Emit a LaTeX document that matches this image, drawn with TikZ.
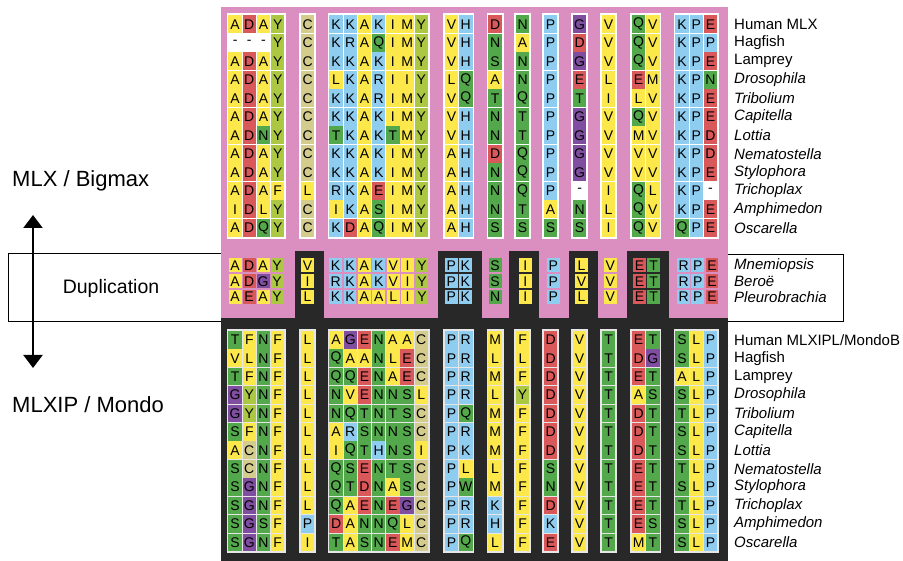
\documentclass[tikz,border=0pt]{standalone}
\usepackage{fontspec}
\setmainfont{Liberation Sans}
\usetikzlibrary{arrows.meta}
\definecolor{cyel}{RGB}{252,232,74}
\definecolor{cred}{RGB}{217,88,90}
\definecolor{cblu}{RGB}{142,204,240}
\definecolor{cgrn}{RGB}{82,168,74}
\definecolor{clgr}{RGB}{172,200,66}
\definecolor{cpur}{RGB}{128,78,160}
\definecolor{ckha}{RGB}{212,204,140}
\definecolor{cpink}{RGB}{219,143,192}
\definecolor{cdark}{RGB}{40,40,40}
\definecolor{cframe}{RGB}{230,230,230}
\tikzset{
  aa/A/.style={fill=cyel}, aa/I/.style={fill=cyel}, aa/L/.style={fill=cyel},
  aa/M/.style={fill=cyel}, aa/V/.style={fill=cyel}, aa/F/.style={fill=cyel},
  aa/D/.style={fill=cred}, aa/E/.style={fill=cred},
  aa/K/.style={fill=cblu}, aa/R/.style={fill=cblu}, aa/H/.style={fill=cblu}, aa/P/.style={fill=cblu},
  aa/Q/.style={fill=cgrn}, aa/N/.style={fill=cgrn}, aa/S/.style={fill=cgrn},
  aa/T/.style={fill=cgrn}, aa/W/.style={fill=cgrn},
  aa/G/.style={fill=cpur}, aa/Y/.style={fill=clgr}, aa/C/.style={fill=ckha},
  aa/-/.style={fill=white},
  cell/.style={rectangle, inner sep=0pt, minimum width=13.4pt, minimum height=17.6pt,
    font=\fontsize{14}{14}\selectfont},
  mcell/.style={cell, minimum width=12.8pt, minimum height=14pt},
  lab/.style={anchor=west, inner sep=0pt, font=\fontsize{15}{15}\selectfont},
  splab/.style={anchor=west, inner sep=0pt, font=\fontsize{15}{15}\selectfont\itshape},
  bigtext/.style={inner sep=0pt, font=\fontsize{22}{22}\selectfont},
  dupline/.style={line width=0.9pt, black},
}
\def\colx{228,242.2,256.4,270.6,300.5,329,343.2,357.4,371.6,385.8,400,414.2,444.5,458.7,488,515.5,543.5,572.5,601.5,631.5,645.7,675,689.2,703.4}
\def\mcolx{228.5,242.5,256.5,270.5,301,329,343.4,357.8,372.2,386.6,401,415.4,444.7,458.7,488.5,518.7,546.7,575,603.7,633,647,677,691.2,705.4}
\begin{document}
\begin{tikzpicture}[x=1pt,y=-1pt]
\useasboundingbox (0,0) rectangle (903,561);
% backgrounds
\fill[cpink] (221,7) rectangle (728,318);
\fill[cdark] (221,318) rectangle (728,561);
% middle black boxes
\foreach \xa/\xb in {294.5/323.5, 438/482, 509/539, 569/598, 627/669}
  \fill[cdark] (\xa,251) rectangle (\xb,318);
% frames
\foreach \xs/\n in {228/4,300.5/1,329/7,444.5/2,488/1,515.5/1,543.5/1,572.5/1,601.5/1,631.5/2,675/3}{
  \fill[white] (\xs-1.5,13.2) rectangle (\xs+\n*14.2+1.5,238.8);
  \fill[cframe] (\xs-1.5,329) rectangle (\xs+\n*14.2+1.5,553.2);
}
% top block
\foreach \row [count=\r] in {
{A,D,A,Y,C,K,K,A,K,I,M,Y,V,H,D,N,P,G,V,Q,V,K,P,E},
{-,-,-,Y,C,K,R,A,Q,I,M,Y,V,H,N,A,P,D,V,Q,V,K,P,P},
{A,D,A,Y,C,K,K,A,K,I,M,Y,V,H,S,N,P,G,V,Q,V,K,P,E},
{A,D,A,Y,C,L,K,A,R,I,I,Y,L,Q,A,N,P,E,L,E,M,K,P,N},
{A,D,A,Y,C,K,K,A,R,I,M,Y,V,Q,T,Q,P,T,I,L,V,K,P,E},
{A,D,A,Y,C,K,K,A,K,I,M,Y,V,H,N,T,P,G,V,Q,V,K,P,E},
{A,D,N,Y,C,T,K,A,K,T,M,Y,V,H,N,T,P,G,V,M,V,K,P,D},
{A,D,A,Y,C,K,K,A,K,I,M,Y,A,H,D,Q,P,G,V,V,V,K,P,D},
{A,D,A,Y,C,K,K,A,K,I,M,Y,A,H,N,Q,P,G,V,V,V,K,P,E},
{A,D,A,F,L,R,K,A,E,I,M,Y,A,H,N,Q,P,-,I,Q,L,K,P,-},
{I,D,L,Y,C,I,K,A,S,I,M,Y,A,H,N,T,A,N,L,Q,V,K,P,E},
{A,D,Q,Y,C,K,D,A,Q,I,M,Y,A,H,S,S,S,S,I,Q,V,Q,P,E}}{
  \foreach \l [count=\k] in \row {
    \pgfmathsetmacro\xx{{\colx}[\k-1]+7.1}
    \pgfmathsetmacro\yy{15+18.5*(\r-1)+9.25}
    \node[cell, aa/\l] (t-\r-\k) at (\xx,\yy) {\l};
  }
}
% middle block
\foreach \row [count=\r] in {
{A,D,A,Y,V,K,K,A,K,V,I,Y,P,K,S,I,P,L,V,E,T,R,P,E},
{A,D,G,Y,I,R,K,A,K,V,I,Y,P,K,S,I,P,V,V,E,T,R,P,E},
{A,E,A,Y,L,K,K,A,A,L,I,Y,P,K,N,I,P,L,V,E,T,R,P,E}}{
  \foreach \l [count=\k] in \row {
    \pgfmathsetmacro\xx{{\mcolx}[\k-1]+6.6}
    \pgfmathsetmacro\yy{265.3+15.9*(\r-1)}
    \node[mcell, aa/\l] (m-\r-\k) at (\xx,\yy) {\l};
  }
}
% bottom block
\foreach \row [count=\r] in {
{T,F,N,F,L,A,G,E,N,A,A,C,P,R,M,F,D,V,T,E,T,S,L,P},
{V,L,N,F,L,Q,A,A,N,L,E,C,P,R,L,L,D,V,T,D,G,S,L,P},
{T,F,N,F,L,Q,Q,E,N,A,E,C,P,R,M,F,D,V,T,E,T,A,L,P},
{G,Y,N,F,L,N,V,E,N,N,S,L,P,R,L,Y,D,V,T,A,S,S,L,P},
{G,Y,N,F,L,N,Q,T,N,T,S,C,P,Q,M,F,D,V,T,D,T,T,L,P},
{S,F,N,F,L,A,R,S,N,N,S,C,P,R,M,F,D,V,T,D,T,S,L,P},
{A,C,N,F,L,I,Q,T,H,N,S,I,P,K,M,F,D,V,T,D,T,S,L,P},
{S,C,N,F,L,Q,S,E,N,T,S,C,P,L,L,F,S,V,T,E,T,T,L,P},
{S,G,N,F,L,Q,T,D,N,A,S,C,P,W,M,F,N,V,T,E,T,S,L,P},
{S,G,N,F,L,Q,A,E,N,E,G,C,P,R,K,F,D,V,T,E,T,T,L,P},
{S,G,S,F,P,D,A,N,N,Q,L,C,P,R,H,F,K,V,T,E,S,S,L,P},
{S,G,N,F,I,T,A,S,N,E,M,C,P,Q,L,F,E,V,T,M,T,S,L,P}}{
  \foreach \l [count=\k] in \row {
    \pgfmathsetmacro\xx{{\colx}[\k-1]+7.1}
    \pgfmathsetmacro\yy{330.7+18.4*(\r-1)+9.2}
    \node[cell, aa/\l] (b-\r-\k) at (\xx,\yy) {\l};
  }
}
% species labels
\foreach \t/\s [count=\i] in {Human MLX/lab, Hagfish/lab, Lamprey/lab, Drosophila/splab,
  Tribolium/splab, Capitella/splab, Lottia/splab, Nematostella/splab, Stylophora/splab,
  Trichoplax/splab, Amphimedon/splab, Oscarella/splab}
  \node[\s] (lt-\i) at (734,{24.25+18.5*(\i-1)}) {\t};
\foreach \t [count=\i] in {Mnemiopsis, Beroë, Pleurobrachia}
  \node[splab] (lm-\i) at (734,{265.3+15.9*(\i-1)}) {\t};
\node[lab] (lb-1) at (734,339.9) {Human MLXIPL/MondoB};
\foreach \t/\s [count=\i from 2] in {Hagfish/lab, Lamprey/lab, Drosophila/splab,
  Tribolium/splab, Capitella/splab, Lottia/splab, Nematostella/splab, Stylophora/splab,
  Trichoplax/splab, Amphimedon/splab, Oscarella/splab}
  \node[\s] (lb-\i) at (734,{339.9+18.4*(\i-1)}) {\t};
% duplication frame
\draw[dupline] (221,253.5) -- (8,253.5) -- (8,321.5) -- (221,321.5);
\draw[dupline] (728,254) -- (843,254) -- (843,321) -- (728,321);
% left labels
\node[bigtext, anchor=base west] (mlx) at (12,186.7) {MLX / Bigmax};
\node[bigtext, anchor=base west] (mlxip) at (12,413) {MLXIP / Mondo};
\node[inner sep=0pt, font=\fontsize{19.5}{20}\selectfont, anchor=base] (dup) at (111,294) {Duplication};
\coordinate (atop) at (33,215);
\coordinate (abot) at (33,368);
\draw[line width=2.2pt, {Triangle[width=19pt,length=13pt]}-{Triangle[width=19pt,length=13pt]}] (atop) -- (abot);
\end{tikzpicture}
\end{document}
